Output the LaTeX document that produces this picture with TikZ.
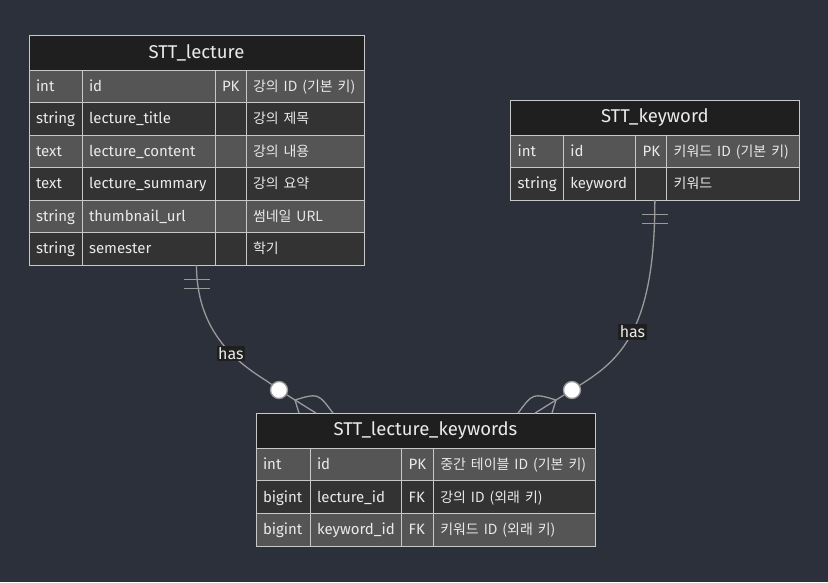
\documentclass[tikz,border=0pt]{standalone}
\usepackage{fontspec}
\setmainfont{Fira Sans}
\newfontfamily\kr[Scale=0.93]{Noto Sans CJK KR}
\usetikzlibrary{fit}

\definecolor{bgcol}{HTML}{2B303B}
\definecolor{titlebg}{HTML}{1F1F1F}
\definecolor{rowlight}{HTML}{555555}
\definecolor{rowdark}{HTML}{333333}
\definecolor{erline}{HTML}{C8C8C8}
\definecolor{ertext}{HTML}{EAEAEA}
\definecolor{relline}{HTML}{9A9A9A}

\begin{document}
\begin{tikzpicture}[
  x=1pt, y=-1pt,
  tbltitle/.style={draw=erline, line width=1pt, fill=titlebg, text=ertext, anchor=north west, outer sep=0pt,
    font=\fontsize{18.5}{20}\selectfont, minimum height=35pt, inner sep=0pt},
  cell/.style={draw=erline, line width=1pt, anchor=north west, outer sep=0pt, minimum height=32.5pt,
    inner xsep=7pt, inner ysep=0pt, text height=11.5pt, text depth=1.5pt, align=left, text=ertext,
    font=\fontsize{15}{17}\selectfont},
  rel/.style={draw=relline, line width=1.3pt},
  lbl/.style={fill=titlebg, text=ertext, font=\fontsize{16}{18}\selectfont, inner sep=1.5pt},
  zcirc/.style={circle, draw=relline, line width=1.3pt, fill=white, minimum size=17pt, inner sep=0pt}
]

\fill[bgcol] (0,0) rectangle (828,582);
\useasboundingbox (0,0) rectangle (828,582);

% STT_lecture
\node[tbltitle, minimum width=335pt] (lec) at (29,35) {STT\_lecture};
\foreach \ty/\nm/\ky/\ds [count=\i] in {
  int/id/PK/강의 ID (기본 키),
  string/lecture\_title//강의 제목,
  text/lecture\_content//강의 내용,
  text/lecture\_summary//강의 요약,
  string/thumbnail\_url//썸네일 URL,
  string/semester//학기}
{
  \pgfmathsetmacro{\rowy}{70+32.5*(\i-1)}
  \ifodd\i\colorlet{rowfill}{rowlight}\else\colorlet{rowfill}{rowdark}\fi
  \node[cell, fill=rowfill, text width=39pt] (lec-ty-\i) at (29,\rowy) {\ty};
  \node[cell, fill=rowfill, text width=119pt] (lec-nm-\i) at (lec-ty-\i.north east) {\nm};
  \node[cell, fill=rowfill, text width=17pt] (lec-ky-\i) at (lec-nm-\i.north east) {\ky};
  \node[cell, fill=rowfill, text width=104pt] (lec-ds-\i) at (lec-ky-\i.north east) {\kr\ds};
}
\node[fit=(lec)(lec-ds-6), inner sep=0pt] (lectbl) {};

% STT_keyword
\node[tbltitle, minimum width=288.3pt, minimum height=34.3pt] (key) at (510.7,100.7) {STT\_keyword};
\foreach \ty/\nm/\ky/\ds [count=\i] in {
  int/id/PK/키워드 ID (기본 키),
  string/keyword//키워드}
{
  \pgfmathsetmacro{\rowy}{135+32.5*(\i-1)}
  \ifodd\i\colorlet{rowfill}{rowlight}\else\colorlet{rowfill}{rowdark}\fi
  \node[cell, fill=rowfill, text width=38.6pt] (key-ty-\i) at (510.7,\rowy) {\ty};
  \node[cell, fill=rowfill, text width=58.4pt] (key-nm-\i) at (key-ty-\i.north east) {\nm};
  \node[cell, fill=rowfill, text width=17pt] (key-ky-\i) at (key-nm-\i.north east) {\ky};
  \node[cell, fill=rowfill, text width=118.3pt] (key-ds-\i) at (key-ky-\i.north east) {\kr\ds};
}
\node[fit=(key)(key-ds-2), inner sep=0pt] (keytbl) {};

% STT_lecture_keywords
\node[tbltitle, minimum width=339pt] (lk) at (256,413.3) {STT\_lecture\_keywords};
\foreach \ty/\nm/\ky/\ds [count=\i] in {
  int/id/PK/중간 테이블 ID (기본 키),
  bigint/lecture\_id/FK/강의 ID (외래 키),
  bigint/keyword\_id/FK/키워드 ID (외래 키)}
{
  \pgfmathsetmacro{\rowy}{448.3+32.6*(\i-1)}
  \ifodd\i\colorlet{rowfill}{rowlight}\else\colorlet{rowfill}{rowdark}\fi
  \node[cell, fill=rowfill, text width=40pt] (lk-ty-\i) at (256,\rowy) {\ty};
  \node[cell, fill=rowfill, text width=77.7pt] (lk-nm-\i) at (lk-ty-\i.north east) {\nm};
  \node[cell, fill=rowfill, text width=17.6pt] (lk-ky-\i) at (lk-nm-\i.north east) {\ky};
  \node[cell, fill=rowfill, text width=147.7pt] (lk-ds-\i) at (lk-ky-\i.north east) {\kr\ds};
}
\node[fit=(lk)(lk-ds-3), inner sep=0pt] (lktbl) {};

% relationships
\node[zcirc] (lcirc) at (279,390) {};
\node[zcirc] (rcirc) at (572,390) {};
\coordinate (lsplit) at (295,400);
\coordinate (rsplit) at (556,400);
\coordinate (lfa) at ([xshift=-126.5pt]lktbl.north);
\coordinate (lfb) at ([xshift=-109.5pt]lktbl.north);
\coordinate (lfc) at ([xshift=-92.5pt]lktbl.north);
\coordinate (rfa) at ([xshift=126.5pt]lktbl.north);
\coordinate (rfb) at ([xshift=109.5pt]lktbl.north);
\coordinate (rfc) at ([xshift=92.5pt]lktbl.north);

\draw[rel] (lectbl.south) .. controls (196.5,345) and (255,372) .. (lcirc)
  node[lbl, pos=.53] (lhas) {has};
\draw[rel] ([xshift=-13pt,yshift=-14pt]lectbl.south) -- ([xshift=13pt,yshift=-14pt]lectbl.south);
\draw[rel] ([xshift=-13pt,yshift=-23pt]lectbl.south) -- ([xshift=13pt,yshift=-23pt]lectbl.south);
\draw[rel] (lcirc) -- (lsplit) -- (lfb);
\draw[rel] (lsplit) -- (lfa);
\draw[rel] (lsplit) .. controls (318,393) .. (lfc);

\draw[rel] (keytbl.south) .. controls (655,330) and (620,360) .. (rcirc)
  node[lbl, pos=.5] (rhas) {has};
\draw[rel] ([xshift=-13pt,yshift=-14pt]keytbl.south) -- ([xshift=13pt,yshift=-14pt]keytbl.south);
\draw[rel] ([xshift=-13pt,yshift=-23pt]keytbl.south) -- ([xshift=13pt,yshift=-23pt]keytbl.south);
\draw[rel] (rcirc) -- (rsplit) -- (rfb);
\draw[rel] (rsplit) -- (rfa);
\draw[rel] (rsplit) .. controls (533,393) .. (rfc);

\end{tikzpicture}
\end{document}
